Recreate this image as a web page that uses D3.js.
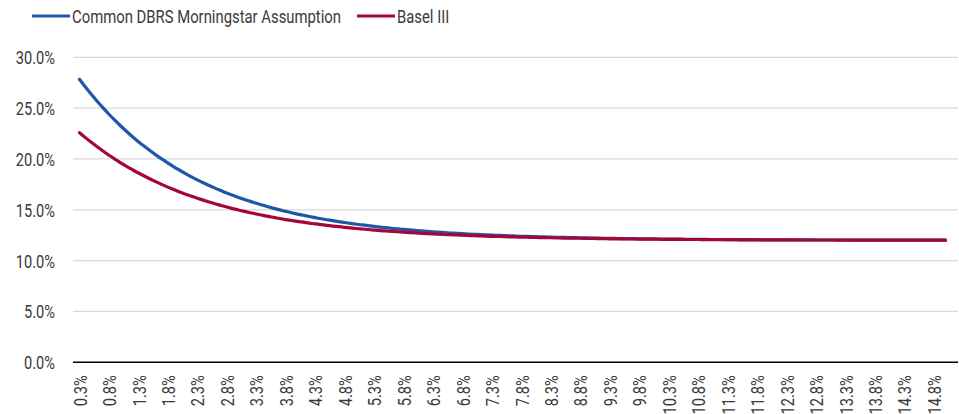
<!DOCTYPE html>
<html>
<head>
<meta charset="utf-8">
<script src="https://cdn.jsdelivr.net/npm/d3@7"></script>
<style>
    body { margin: 0; background: #fff; }
    text { font-family: Roboto, sans-serif; fill: #3a3a3a; }
</style>
</head>
<body>
<div id="chart"></div>
<script>
// categories: 0.3% .. 15.0% in 0.1% steps
const categories = d3.range(3, 151).map(i => (i / 10).toFixed(1) + '%');

const dbrsValues = [
    27.84, 27.08, 26.36, 25.67, 25.02, 24.40, 23.81, 23.24, 22.70, 22.19,
    21.70, 21.24, 20.80, 20.38, 19.98, 19.60, 19.23, 18.89, 18.56, 18.24,
    17.94, 17.66, 17.39, 17.13, 16.89, 16.65, 16.43, 16.22, 16.02, 15.83,
    15.64, 15.47, 15.30, 15.14, 14.99, 14.85, 14.71, 14.58, 14.46, 14.34,
    14.23, 14.12, 14.02, 13.93, 13.83, 13.75, 13.66, 13.58, 13.51, 13.44,
    13.37, 13.30, 13.24, 13.18, 13.12, 13.07, 13.02, 12.97, 12.92, 12.88,
    12.84, 12.80, 12.76, 12.72, 12.69, 12.66, 12.62, 12.59, 12.57, 12.54,
    12.51, 12.49, 12.47, 12.44, 12.42, 12.40, 12.38, 12.36, 12.35, 12.33,
    12.31, 12.30, 12.29, 12.27, 12.26, 12.25, 12.23, 12.22, 12.21, 12.20,
    12.19, 12.18, 12.17, 12.17, 12.16, 12.15, 12.14, 12.14, 12.13, 12.12,
    12.12, 12.11, 12.11, 12.10, 12.10, 12.09, 12.09, 12.08, 12.08, 12.08,
    12.07, 12.07, 12.07, 12.06, 12.06, 12.06, 12.05, 12.05, 12.05, 12.05,
    12.04, 12.04, 12.04, 12.04, 12.04, 12.03, 12.03, 12.03, 12.03, 12.03,
    12.03, 12.03, 12.02, 12.02, 12.02, 12.02, 12.02, 12.02, 12.02, 12.02,
    12.02, 12.02, 12.02, 12.01, 12.01, 12.01, 12.01, 12.01
];

const baselValues = [
    22.59, 22.10, 21.64, 21.20, 20.78, 20.37, 19.99, 19.62, 19.27, 18.94,
    18.62, 18.32, 18.03, 17.75, 17.48, 17.23, 16.99, 16.76, 16.54, 16.34,
    16.14, 15.95, 15.77, 15.59, 15.43, 15.27, 15.12, 14.98, 14.84, 14.71,
    14.59, 14.47, 14.35, 14.25, 14.14, 14.04, 13.95, 13.86, 13.78, 13.69,
    13.62, 13.54, 13.47, 13.40, 13.34, 13.28, 13.22, 13.16, 13.11, 13.06,
    13.01, 12.96, 12.92, 12.88, 12.84, 12.80, 12.76, 12.73, 12.69, 12.66,
    12.63, 12.60, 12.57, 12.55, 12.52, 12.50, 12.48, 12.45, 12.43, 12.41,
    12.39, 12.38, 12.36, 12.34, 12.33, 12.31, 12.30, 12.28, 12.27, 12.26,
    12.25, 12.24, 12.22, 12.21, 12.20, 12.20, 12.19, 12.18, 12.17, 12.16,
    12.15, 12.15, 12.14, 12.13, 12.13, 12.12, 12.12, 12.11, 12.11, 12.10,
    12.10, 12.09, 12.09, 12.08, 12.08, 12.08, 12.07, 12.07, 12.07, 12.06,
    12.06, 12.06, 12.05, 12.05, 12.05, 12.05, 12.05, 12.04, 12.04, 12.04,
    12.04, 12.04, 12.03, 12.03, 12.03, 12.03, 12.03, 12.03, 12.03, 12.02,
    12.02, 12.02, 12.02, 12.02, 12.02, 12.02, 12.02, 12.02, 12.01, 12.01,
    12.01, 12.01, 12.01, 12.01, 12.01, 12.01, 12.01, 12.01
];

const yTicks = [0, 5, 10, 15, 20, 25, 30];
const xTicks = categories.filter((d, i) => i % 5 === 0);

const series = [
    {name: 'Common DBRS Morningstar Assumption', values: dbrsValues, color: '#1f57a7'},
    {name: 'Basel III', values: baselValues, color: '#a6053b'}
];

const width = 959, height = 414;
const plotLeft = 73, plotRight = 958;
const squeeze = 0.79; // fake a condensed face

const svg = d3.select('#chart').append('svg')
    .attr('width', width)
    .attr('height', height);

const x = d3.scalePoint()
    .domain(categories)
    .range([79.5, 945.5]);

const y = d3.scaleLinear()
    .domain([0, 30])
    .range([362.3, 57.3]);

// gridlines
svg.append('g')
    .selectAll('line')
    .data(yTicks.filter(d => d > 0))
    .join('line')
    .attr('x1', plotLeft)
    .attr('x2', plotRight)
    .attr('y1', d => y(d))
    .attr('y2', d => y(d))
    .attr('stroke', '#d9d9d9')
    .attr('stroke-width', 1.3);

// y axis labels
let yAxis = svg.append('g')
    .attr('transform', `translate(${plotLeft},0)`)
    .call(d3.axisLeft(y).tickValues(yTicks).tickSize(0).tickFormat(d => d.toFixed(1) + '%'));
yAxis.select('.domain').remove();
yAxis.selectAll('text')
    .attr('x', 0)
    .attr('dy', '0.35em')
    .attr('transform', `translate(-18,0) scale(${squeeze},1)`)
    .style('font-size', '18.5px')
    .style('font-family', 'Roboto, sans-serif')
    .attr('fill', '#3a3a3a');

// x axis labels
let xAxis = svg.append('g')
    .attr('transform', `translate(0,${y(0)})`)
    .call(d3.axisBottom(x).tickValues(xTicks).tickSize(0));
xAxis.select('.domain').remove();
xAxis.selectAll('text')
    .attr('x', 0)
    .attr('y', 0)
    .attr('dy', '0.36em')
    .attr('text-anchor', 'end')
    .attr('transform', `rotate(-90) translate(-13,0) scale(${squeeze},1)`)
    .style('font-size', '18.5px')
    .style('font-family', 'Roboto, sans-serif')
    .attr('fill', '#3a3a3a');

// zero line
svg.append('line')
    .attr('x1', plotLeft)
    .attr('x2', plotRight)
    .attr('y1', y(0))
    .attr('y2', y(0))
    .attr('stroke', '#000')
    .attr('stroke-width', 1.5);

// lines
const line = d3.line()
    .x((d, i) => x(categories[i]))
    .y(d => y(d))
    .curve(d3.curveMonotoneX);

svg.append('g')
    .selectAll('path')
    .data(series)
    .join('path')
    .attr('d', d => line(d.values))
    .attr('fill', 'none')
    .attr('stroke', d => d.color)
    .attr('stroke-width', 3.2)
    .attr('stroke-linecap', 'round')
    .attr('stroke-linejoin', 'round');

// legend
const legendPos = [32, 357];
let legend = svg.append('g')
    .selectAll('g')
    .data(series)
    .join('g')
    .attr('transform', (d, i) => `translate(${legendPos[i]},16)`);
legend.append('line')
    .attr('x1', 0)
    .attr('x2', 38)
    .attr('stroke', d => d.color)
    .attr('stroke-width', 3.2);
legend.append('text')
    .attr('transform', `translate(40,0) scale(${squeeze},1)`)
    .attr('dy', '0.36em')
    .style('font-size', '18.8px')
    .text(d => d.name);
</script>
</body>
</html>
